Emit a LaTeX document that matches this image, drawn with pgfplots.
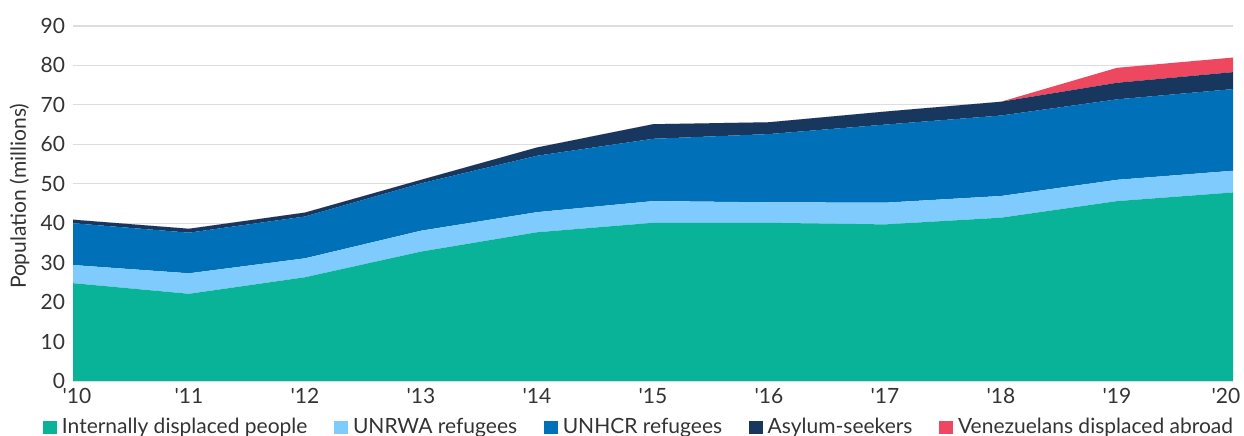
\documentclass[border=0pt]{standalone}
\usepackage{fontspec}
\setmainfont{Lato}
\usepackage{pgfplots}
\pgfplotsset{compat=1.18}
\definecolor{cidp}{HTML}{08B398}
\definecolor{cunrwa}{HTML}{80CBFD}
\definecolor{cunhcr}{HTML}{0070B8}
\definecolor{casy}{HTML}{18375F}
\definecolor{cven}{HTML}{EE4860}
\definecolor{cgrid}{HTML}{DDDDDD}
\definecolor{ctext}{HTML}{333333}
\begin{document}
\begin{tikzpicture}
\begin{axis}[
  name=ax,
  scale only axis,
  width=580pt, height=177.5pt,
  xmin=0, xmax=10, ymin=0, ymax=90,
  stack plots=y,
  xtick={0,...,10},
  xticklabels={\hspace*{4pt}\textquotesingle10,\textquotesingle11,\textquotesingle12,\textquotesingle13,\textquotesingle14,\textquotesingle15,\textquotesingle16,\textquotesingle17,\textquotesingle18,\textquotesingle19,\hspace*{-7pt}\textquotesingle20},
  ytick={0,10,...,90},
  ymajorgrids,
  grid style={cgrid, line width=0.6pt},
  axis x line*=bottom,
  axis y line*=left,
  y axis line style={draw=none},
  x axis line style={cgrid, line width=0.6pt},
  major tick length=0pt,
  tick label style={font=\fontsize{10.5}{12}\selectfont, text=ctext},
  /pgf/number format/assume math mode=true,
  xticklabel style={yshift=0pt},
  yticklabel style={xshift=-0.5pt},
  ylabel={Population (millions)},
  ylabel style={font=\fontsize{10.5}{12}\selectfont, text=ctext, at={(axis description cs:-0.046,0.52)}, anchor=center, rotate=0},
  legend columns=-1,
  legend style={draw=none, fill=none, font=\fontsize{10.5}{12}\selectfont, text=ctext,
    at={(axis description cs:0.489,-0.093)}, anchor=north,
    /tikz/every even column/.append style={column sep=11.5pt},
    /tikz/every odd column/.append style={column sep=0.5pt},
    inner sep=0pt},
  legend image code/.code={\fill[#1] (0pt,-3.4pt) rectangle (6.8pt,3.4pt);},
  legend cell align=left,
]
\addplot[fill=cidp, draw=none] coordinates {(0,24.8)(1,22.1)(2,26.3)(3,32.8)(4,37.7)(5,40.1)(6,40.1)(7,39.7)(8,41.4)(9,45.6)(10,47.8)} \closedcycle;
\addlegendentry{Internally displaced people}
\addplot[fill=cunrwa, draw=none] coordinates {(0,4.6)(1,5.2)(2,4.8)(3,5.3)(4,5.1)(5,5.5)(6,5.2)(7,5.5)(8,5.5)(9,5.4)(10,5.5)} \closedcycle;
\addlegendentry{UNRWA refugees}
\addplot[fill=cunhcr, draw=none] coordinates {(0,10.6)(1,10.3)(2,10.6)(3,12.0)(4,14.3)(5,15.8)(6,17.3)(7,19.8)(8,20.4)(9,20.4)(10,20.7)} \closedcycle;
\addlegendentry{UNHCR refugees}
\addplot[fill=casy, draw=none] coordinates {(0,0.9)(1,1.0)(2,1.0)(3,0.9)(4,2.1)(5,3.7)(6,3.0)(7,3.3)(8,3.5)(9,4.2)(10,4.3)} \closedcycle;
\addlegendentry{Asylum-seekers}
\addplot[fill=cven, draw=none] coordinates {(0,0)(1,0)(2,0)(3,0)(4,0)(5,0)(6,0)(7,0)(8,0)(9,3.8)(10,3.7)} \closedcycle;
\addlegendentry{Venezuelans displaced abroad}
\end{axis}
\pgfresetboundingbox
\path ([xshift=-36.5pt,yshift=-27.5pt]ax.south west) rectangle ([xshift=5.5pt,yshift=13pt]ax.north east);
\end{tikzpicture}
\end{document}
